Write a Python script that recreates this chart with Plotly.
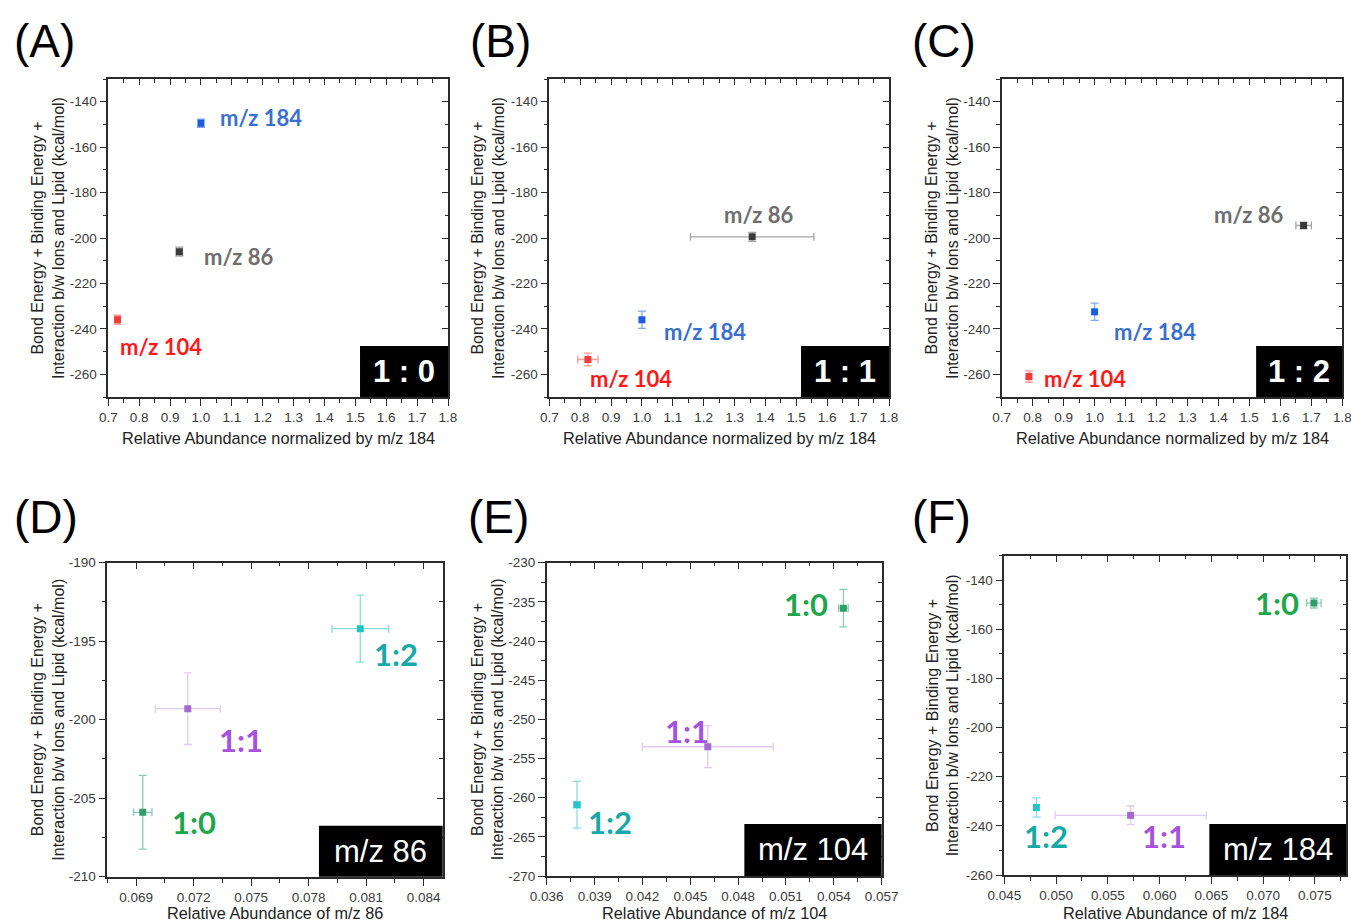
import plotly.graph_objects as go

W, H = 1351, 924

# ---------------- data ----------------
top_ions = ['m/z 184', 'm/z 86', 'm/z 104']

A_x = [1.00, 0.93, 0.73]
A_y = [-149.5, -206.0, -236.0]
A_xerr = [0.006, 0.010, 0.006]
A_yerr = [1.8, 2.0, 2.0]

B_x = [1.00, 1.357, 0.825]
B_y = [-236.0, -199.5, -253.5]
B_xerr = [0.0, 0.200, 0.033]
B_yerr = [3.8, 2.0, 2.8]

C_x = [1.00, 1.675, 0.788]
C_y = [-232.5, -194.5, -261.0]
C_xerr = [0.0, 0.025, 0.005]
C_yerr = [3.8, 1.5, 2.5]

ratios = ['1:0', '1:1', '1:2']

D_x = [0.06935, 0.0717, 0.0807]
D_y = [-205.9, -199.3, -194.2]
D_xerr = [0.00048, 0.0017, 0.00148]
D_yerr = [2.35, 2.28, 2.13]

E_x = [0.0546, 0.0461, 0.0379]
E_y = [-235.8, -253.5, -260.9]
E_xerr = [0.0003, 0.0041, 0.0002]
E_yerr = [2.4, 2.66, 2.98]

F_x = [0.0749, 0.0572, 0.0481]
F_y = [-149.3, -235.7, -232.5]
F_xerr = [0.0007, 0.0073, 0.0002]
F_yerr = [2.0, 3.8, 3.9]

panel_letters = ['(A)', '(B)', '(C)', '(D)', '(E)', '(F)']
box_texts = ['1 : 0', '1 : 1', '1 : 2', 'm/z 86', 'm/z 104', 'm/z 184']
x_titles = ['Relative Abundance normalized by m/z 184'] * 3 + [
    'Relative Abundance of m/z 86', 'Relative Abundance of m/z 104',
    'Relative Abundance of m/z 184']
y_title = 'Bond Energy + Binding Energy +<br>Interaction b/w Ions and Lipid (kcal/mol)'

# ---------------- styles ----------------
top_marker = ['#1a5ee0', '#3a3a3a', '#ee3b3b']
top_label = ['#3a6fd0', '#6e6e6e', '#ff1a1a']
top_err = ['rgba(26,94,224,0.55)', 'rgba(58,58,58,0.45)', 'rgba(238,59,59,0.5)']
bot_marker = ['#2e9e6c', '#a36ad2', '#25c3c3']
bot_label = ['#1fa64c', '#a552dc', '#17a8a8']
bot_err = ['rgba(46,158,108,0.55)', 'rgba(163,106,210,0.35)', 'rgba(37,195,195,0.55)']

AX = '#2b2b2b'
TICKFONT = dict(family='Liberation Sans, Arial', size=13.5, color='#3a3a3a')

panels = [
    dict(px=(108.3, 448), py=(79, 397), xr=[0.7, 1.8], yr=[-270, -130],
         xt0=0.7, xdt=0.1, xmdt=0.05, xfmt='.1f', yt0=-140, ydt=20, ymdt=10,
         data=(A_x, A_y, A_xerr, A_yerr), names=top_ions, top=True,
         labels=[(1.055, -147, 'left'), (1.003, -208.1, 'left'), (0.731, -247.7, 'left')],
         box=(0.741, 0.160)),
    dict(px=(549.3, 889), py=(79, 397), xr=[0.7, 1.8], yr=[-270, -130],
         xt0=0.7, xdt=0.1, xmdt=0.05, xfmt='.1f', yt0=-140, ydt=20, ymdt=10,
         data=(B_x, B_y, B_xerr, B_yerr), names=top_ions, top=True,
         labels=[(1.065, -241.1, 'left'), (1.259, -189.7, 'left'), (0.825, -261.8, 'left')],
         box=(0.741, 0.160)),
    dict(px=(1001.7, 1342.3), py=(79, 397), xr=[0.7, 1.8], yr=[-270, -130],
         xt0=0.7, xdt=0.1, xmdt=0.05, xfmt='.1f', yt0=-140, ydt=20, ymdt=10,
         data=(C_x, C_y, C_xerr, C_yerr), names=top_ions, top=True,
         labels=[(1.056, -241.1, 'left'), (1.379, -189.7, 'left'), (0.830, -261.8, 'left')],
         box=(0.747, 0.160)),
    dict(px=(107.3, 442.7), py=(562.7, 876.7), xr=[0.0675, 0.085], yr=[-210, -190],
         xt0=0.069, xdt=0.003, xmdt=0.0015, xfmt='.3f', yt0=-190, ydt=5, ymdt=2.5,
         data=(D_x, D_y, D_xerr, D_yerr), names=ratios, top=False,
         labels=[(0.07077, -206.5, 'left'), (0.0732, -201.3, 'left'), (0.0813, -195.8, 'left')],
         box=(0.631, 0.162)),
    dict(px=(546.7, 881.7), py=(562.7, 876), xr=[0.036, 0.057], yr=[-270, -230],
         xt0=0.036, xdt=0.003, xmdt=0.0015, xfmt='.3f', yt0=-230, ydt=5, ymdt=2.5,
         data=(E_x, E_y, E_xerr, E_yerr), names=ratios, top=False,
         labels=[(0.05376, -235.3, 'right'), (0.0433, -251.5, 'left'), (0.03846, -263.1, 'left')],
         box=(0.590, 0.166)),
    dict(px=(1004.3, 1346), py=(555.7, 875), xr=[0.045, 0.078], yr=[-260, -130],
         xt0=0.045, xdt=0.005, xmdt=0.0025, xfmt='.3f', yt0=-140, ydt=20, ymdt=10,
         data=(F_x, F_y, F_xerr, F_yerr), names=ratios, top=False,
         labels=[(0.07361, -149.2, 'right'), (0.05813, -244.0, 'left'), (0.04668, -244.0, 'left')],
         box=(0.600, 0.160)),
]

letter_pos = [(12, 41), (468, 41), (910, 41), (12, 517), (466, 517), (910, 517)]
ytitle_x = [48, 488, 942, 48, 488, 943]
xtitle_y = [438, 438, 438, 924, 924, 924]
xtitle_anchor = ['middle', 'middle', 'middle', 'bottom', 'bottom', 'bottom']


def pxx(v):
    return v / W


def pxy(v):
    return 1 - v / H


def sfx(n):
    return '' if n == 1 else str(n)


def yticks(t0, dt, rng):
    vals = []
    v = t0
    while v >= rng[0] - 1e-9:
        vals.append(v)
        v -= dt
    return sorted(vals), [f'{x:g}' for x in sorted(vals)]


fig = go.Figure()
annotations = []
shapes = []
layout = {}

for i, p in enumerate(panels, start=1):
    s, so = sfx(i), sfx(i + 6)
    xs, ys, xe, ye = p['data']
    mcol = top_marker if p['top'] else bot_marker
    lcol = top_label if p['top'] else bot_label
    ecol = top_err if p['top'] else bot_err
    for k in range(3):
        fig.add_trace(go.Scatter(
            x=[xs[k]], y=[ys[k]], mode='markers', name=p['names'][k],
            xaxis=f'x{s}', yaxis=f'y{s}', showlegend=False,
            marker=dict(symbol='square', size=7, color=mcol[k], line=dict(width=0)),
            error_x=dict(type='data', array=[xe[k]], visible=xe[k] > 0,
                         color=ecol[k], thickness=1.3, width=4),
            error_y=dict(type='data', array=[ye[k]], visible=True,
                         color=ecol[k], thickness=1.3, width=4),
        ))
        lx, ly, anc = p['labels'][k]
        annotations.append(dict(
            x=lx, y=ly, xref=f'x{s}', yref=f'y{s}', text=f'<b>{p["names"][k]}</b>',
            showarrow=False, xanchor=anc, yanchor='middle',
            font=dict(family='Lato', size=22 if p['top'] else 31, color=lcol[k])))
    # invisible trace for the inside (top/right) tick overlay axes
    fig.add_trace(go.Scatter(x=[], y=[], xaxis=f'x{so}', yaxis=f'y{so}',
                             showlegend=False, hoverinfo='skip'))

    xdom = [pxx(p['px'][0]), pxx(p['px'][1])]
    ydom = [pxy(p['py'][1]), pxy(p['py'][0])]
    common = dict(showgrid=False, zeroline=False, fixedrange=True, automargin=False)
    yv, yt = yticks(p['yt0'], p['ydt'], p['yr'])
    layout[f'xaxis{s}'] = dict(
        domain=xdom, range=p['xr'], anchor=f'y{s}', showline=True, linecolor=AX,
        linewidth=1.6, mirror=True, ticks='outside', ticklen=7, tickwidth=1.4,
        tickcolor=AX, tick0=p['xt0'], dtick=p['xdt'], tickformat=p['xfmt'],
        tickfont=TICKFONT, ticklabeloverflow='allow',
        minor=dict(ticks='outside', ticklen=4, tickwidth=1.2, tickcolor=AX,
                   tick0=p['xt0'], dtick=p['xmdt'], showgrid=False), **common)
    layout[f'yaxis{s}'] = dict(
        domain=ydom, range=p['yr'], anchor=f'x{s}', showline=True, linecolor=AX,
        linewidth=1.6, mirror=True, ticks='outside', ticklen=7, tickwidth=1.4,
        tickcolor=AX, tickmode='array', tickvals=yv, ticktext=yt, tickfont=TICKFONT,
        minor=dict(ticks='outside', ticklen=4, tickwidth=1.2, tickcolor=AX,
                   tick0=p['yt0'], dtick=p['ymdt'], showgrid=False), **common)
    layout[f'xaxis{so}'] = dict(
        overlaying=f'x{s}', side='top', anchor=f'y{so}', range=p['xr'],
        showline=False, ticks='inside', ticklen=6, tickwidth=1.4, tickcolor=AX,
        tick0=p['xt0'], dtick=p['xdt'], showticklabels=False,
        minor=dict(ticks='inside', ticklen=3.5, tickwidth=1.2, tickcolor=AX,
                   tick0=p['xt0'], dtick=p['xmdt'], showgrid=False), **common)
    layout[f'yaxis{so}'] = dict(
        overlaying=f'y{s}', side='right', anchor=f'x{so}', range=p['yr'],
        showline=False, ticks='inside', ticklen=6, tickwidth=1.4, tickcolor=AX,
        tick0=p['yt0'], dtick=p['ydt'], showticklabels=False,
        minor=dict(ticks='inside', ticklen=3.5, tickwidth=1.2, tickcolor=AX,
                   tick0=p['yt0'], dtick=p['ymdt'], showgrid=False), **common)

    # black ratio / ion box
    bx0, by1 = p['box']
    shapes.append(dict(type='rect', xref=f'x{s} domain', yref=f'y{s} domain',
                       x0=bx0, x1=1, y0=0, y1=by1, fillcolor='black',
                       line=dict(width=0), layer='above'))
    annotations.append(dict(
        x=(bx0 + 1) / 2, y=by1 / 2, xref=f'x{s} domain', yref=f'y{s} domain',
        text=(f'<b>{box_texts[i-1]}</b>' if p['top'] else box_texts[i-1]),
        showarrow=False, xanchor='center', yanchor='middle',
        font=dict(family='Liberation Sans, Arial', size=31, color='white')))

    # axis titles
    annotations.append(dict(
        x=(xdom[0] + xdom[1]) / 2, y=pxy(xtitle_y[i-1]), xref='paper', yref='paper',
        text=x_titles[i-1], showarrow=False, xanchor='center',
        yanchor=xtitle_anchor[i-1],
        font=dict(family='Liberation Sans, Arial', size=16.3, color='#222222')))
    annotations.append(dict(
        x=pxx(ytitle_x[i-1]), y=(ydom[0] + ydom[1]) / 2, xref='paper', yref='paper',
        text=y_title, showarrow=False, textangle=-90, xanchor='center',
        yanchor='middle',
        font=dict(family='Liberation Sans, Arial', size=16, color='#222222')))
    # panel letters
    lx, ly = letter_pos[i-1]
    annotations.append(dict(
        x=pxx(lx), y=pxy(ly), xref='paper', yref='paper', text=panel_letters[i-1],
        showarrow=False, xanchor='left', yanchor='middle',
        font=dict(family='Liberation Sans, Arial', size=46, color='black')))

fig.update_layout(
    width=W, height=H, autosize=False,
    margin=dict(l=0, r=0, t=0, b=0, pad=0, autoexpand=False),
    paper_bgcolor='white', plot_bgcolor='white',
    showlegend=False,
    annotations=annotations, shapes=shapes,
    **layout,
)

fig.write_html("out.html", config={'displayModeBar': False},
               post_script="document.body.style.margin='0';")
